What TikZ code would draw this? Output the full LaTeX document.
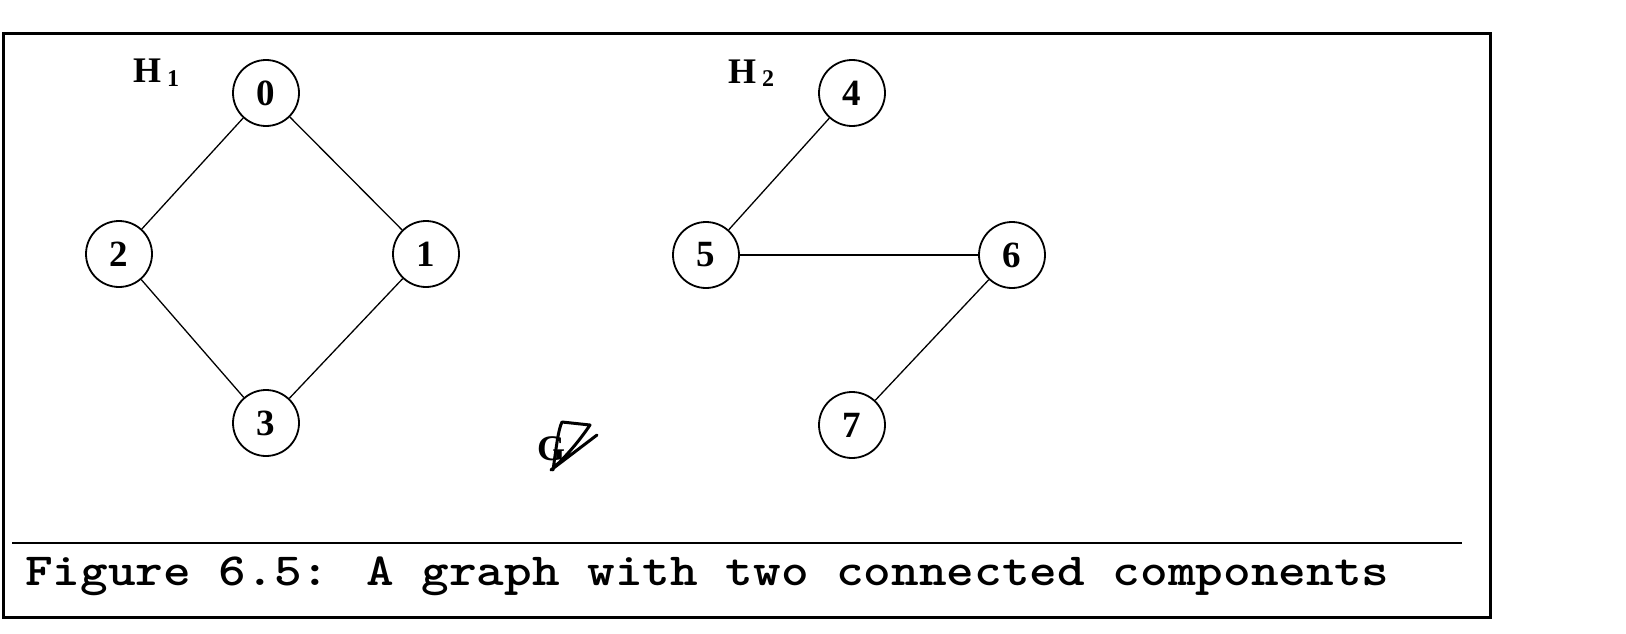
\documentclass[tikz,border=0pt]{standalone}
\usepackage{fontspec}
\setmainfont{Liberation Serif}
\begin{document}
\begin{tikzpicture}[x=1pt,y=-1pt,
  vtx/.style={circle,draw,line width=1.8pt,minimum size=66pt,inner sep=0pt,font=\fontsize{37}{37}\selectfont\bfseries},
  edge/.style={line width=1.3pt},
  glabel/.style={font=\fontsize{36}{36}\selectfont\bfseries,inner sep=0pt}]
\useasboundingbox (0,0) rectangle (1626,634);
\draw[line width=3pt] (3,34) rectangle (1490,617);
\draw[line width=2.5pt] (12,543) -- (1462,543);
\node[anchor=base west,inner sep=0pt,font=\ttfamily\bfseries\fontsize{46}{46}\selectfont] (cap) at (25,585) {\scalebox{1.145}[1]{Figure 6.5: A graph with two connected components}};
\node[vtx] (n0) at (266,93) {0};
\node[vtx] (n2) at (119,254) {2};
\node[vtx] (n1) at (426,254) {1};
\node[vtx] (n3) at (266,423) {3};
\node[vtx] (n4) at (852,93) {4};
\node[vtx] (n5) at (706,255) {5};
\node[vtx] (n6) at (1012,255) {6};
\node[vtx] (n7) at (852,425) {7};
\draw[edge] (n0) -- (n2);
\draw[edge] (n0) -- (n1);
\draw[edge] (n2) -- (n3);
\draw[edge] (n1) -- (n3);
\draw[edge] (n4) -- (n5);
\draw[edge] (n5) -- (n6);
\draw[edge] (n6) -- (n7);
\node[glabel,anchor=base west] (h1) at (133,83) {H\hspace{6pt}\raisebox{-3pt}{\fontsize{24}{24}\selectfont 1}};
\node[glabel,anchor=base west] (h2) at (728,84) {H\hspace{6pt}\raisebox{-3pt}{\fontsize{24}{24}\selectfont 2}};
\node[glabel,anchor=base west] (g) at (537,460) {G};
\draw[line width=3pt,line cap=round,line join=round] (553,470) .. controls (556,450) and (558,430) .. (562,422) -- (590,425) .. controls (580,440) and (565,458) .. (551,470) -- (597,435);
\end{tikzpicture}
\end{document}
